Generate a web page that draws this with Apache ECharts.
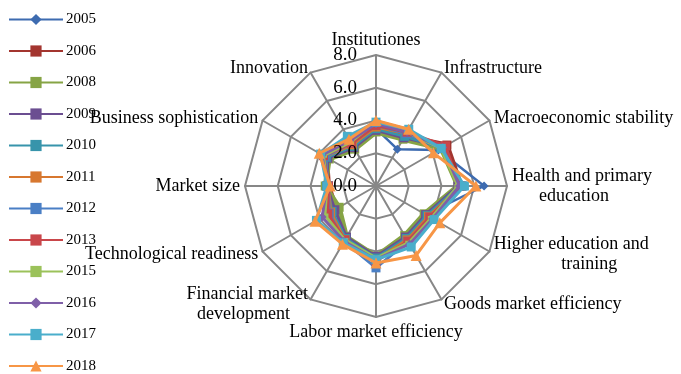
<!DOCTYPE html>
<html>
<head>
<meta charset="utf-8">
<script src="https://cdn.jsdelivr.net/npm/echarts@6/dist/echarts.min.js"></script>
<style>
  html, body { margin: 0; padding: 0; background: #fff; }
  #main { width: 681px; height: 374px; }
</style>
</head>
<body>
<div id="main"></div>
<script>
// 指标（从顶部起顺时针）
var indicatorNames = ['Institutiones', 'Infrastructure', 'Macroeconomic stability', 'Health and primary\n      education',
  'Higher education and\n               training', 'Goods market efficiency', 'Labor market efficiency', 'Financial market\ndevelopment    ',
  'Technological readiness', 'Market size', 'Business sophistication', 'Innovation']
var axisTicks = [0, 2, 4, 6, 8]
var years = ['2005', '2006', '2008', '2009', '2010', '2011', '2012', '2013', '2015', '2016', '2017', '2018']

var v2005 = [3.5, 2.6, 4.4, 6.6, 3.5, 3.6, 4.4, 3.8, 2.8, 2.9, 3.4, 2.8]
var v2006 = [3.6, 3.5, 5.0, 5.2, 3.6, 3.7, 4.4, 3.7, 2.8, 2.9, 3.5, 2.9]
var v2008 = [3.3, 3.3, 4.6, 5.0, 3.4, 3.5, 4.3, 3.6, 2.6, 3.1, 3.3, 2.6]
var v2009 = [3.4, 3.4, 4.8, 5.0, 3.5, 3.6, 4.3, 3.6, 2.9, 3.0, 3.4, 2.7]
var v2010 = [3.5, 3.5, 4.7, 5.1, 3.6, 3.7, 4.4, 3.7, 3.1, 3.0, 3.5, 2.8]
var v2011 = [3.6, 3.7, 4.7, 5.2, 3.7, 3.8, 4.5, 3.8, 3.2, 2.9, 3.6, 2.9]
var v2012 = [3.7, 3.7, 4.6, 5.3, 3.8, 3.9, 5.0, 3.9, 3.3, 2.9, 3.6, 3.0]
var v2013 = [3.7, 3.8, 4.9, 5.1, 3.8, 3.9, 4.6, 3.8, 3.4, 2.9, 3.7, 3.0]
var v2015 = [3.9, 3.8, 4.6, 5.0, 3.9, 4.0, 4.4, 3.8, 3.6, 3.0, 3.7, 3.1]
var v2016 = [3.8, 3.8, 4.7, 5.1, 4.0, 4.1, 4.5, 3.9, 3.8, 3.0, 3.8, 3.2]
var v2017 = [3.9, 4.0, 4.6, 5.4, 4.1, 4.3, 4.5, 4.0, 4.2, 3.0, 3.9, 3.5]
var v2018 = [4.0, 4.0, 4.05, 6.1, 4.5, 4.9, 4.7, 4.1, 4.3, 2.8, 4.0, 3.3]

var values = [v2005, v2006, v2008, v2009, v2010, v2011, v2012, v2013, v2015, v2016, v2017, v2018]
var colors = ['#3d6bb0', '#a3352f', '#86a445', '#6b4e91', '#3794ab', '#d7772f',
  '#4a7fc5', '#c9464a', '#9bc25a', '#7f5fa8', '#4aaecb', '#f79646']
var symbols = ['diamond', 'rect', 'rect', 'rect', 'rect', 'rect', 'rect', 'rect', 'rect', 'diamond', 'rect', 'triangle']
var widths = [2.5, 5, 5, 3, 3, 3, 3, 3, 3, 3, 3, 3]

var FONT = '"Liberation Serif", "Times New Roman", serif'
var gridColor = '#878787'

// echarts 雷达图是逆时针排列，这里反转一下顺序
var order = [0]
for (var i = indicatorNames.length - 1; i > 0; i--) order.push(i)

function sizeOf (k) {
  if (k === 11) return 11
  if (k === 8) return [7, 4]
  return 9
}

var myChart = echarts.init(document.getElementById('main'))

// 图例用的空折线系列（显示线+标记）
var legendSeries = years.map(function (y, k) {
  return {
    name: y,
    type: 'line',
    coordinateSystem: 'polar',
    data: [],
    symbol: symbols[k],
    symbolSize: sizeOf(k),
    lineStyle: { color: colors[k], width: widths[k] },
    itemStyle: { color: colors[k] },
    silent: true
  }
})
var radarSeries = years.map(function (y, k) {
  return {
    name: y,
    type: 'radar',
    symbol: symbols[k],
    symbolSize: sizeOf(k),
    lineStyle: { color: colors[k], width: widths[k] },
    itemStyle: { color: colors[k] },
    data: [{ name: y, value: order.map(function (j) { return values[k][j] }) }],
    z: 2 + k
  }
})

var option = {
  animation: false,
  color: colors,
  legend: {
    orient: 'vertical',
    left: 8,
    top: 12,
    height: 420,
    padding: 0,
    itemWidth: 54,
    itemHeight: 14,
    itemGap: 16.5,
    textStyle: { fontFamily: FONT, fontSize: 15, color: '#000', padding: [0, 0, 0, -2] },
    data: years
  },
  radar: {
    center: [376, 186],
    radius: 131,
    startAngle: 90,
    shape: 'polygon',
    splitNumber: 4,
    indicator: order.map(function (j) { return { name: indicatorNames[j], min: 0, max: 8 } }),
    axisName: { color: '#000', fontFamily: FONT, fontSize: 18, lineHeight: 20 },
    nameGap: 5,
    axisLine: { lineStyle: { color: gridColor, width: 2 } },
    splitLine: { lineStyle: { color: gridColor, width: 2 } },
    splitArea: { show: false }
  },
  polar: { center: [376, 186], radius: 131 },
  angleAxis: { show: false, startAngle: 90 },
  radiusAxis: {
    min: axisTicks[0],
    max: axisTicks[axisTicks.length - 1],
    interval: 2,
    axisLine: { show: false },
    axisTick: { show: false },
    splitLine: { show: false },
    axisLabel: {
      color: '#000', fontFamily: FONT, fontSize: 19, margin: 19,
      formatter: function (v) { return v.toFixed(1) }
    },
    z: 20
  },
  series: legendSeries.concat(radarSeries)
}
myChart.setOption(option, true)
window.addEventListener('resize', function () {
  myChart.resize()
})
</script>
</body>
</html>
